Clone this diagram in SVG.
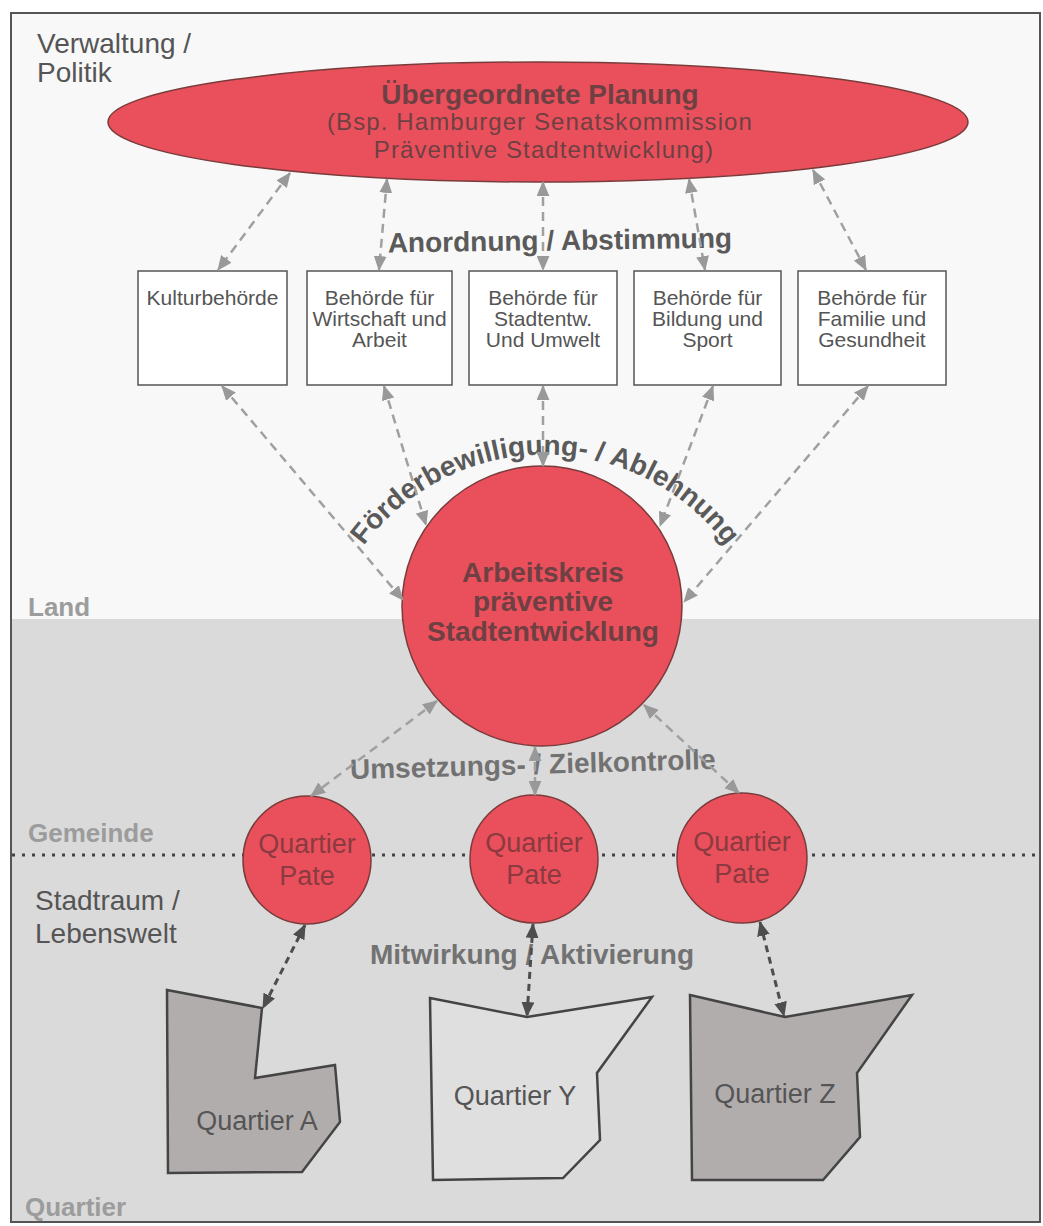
<svg xmlns="http://www.w3.org/2000/svg" width="1043" height="1226" viewBox="0 0 1043 1226">
  <style>
    .lbl { font-family: "Liberation Sans", Arial, sans-serif; }
    .side { font-size: 28px; fill: #555; }
    .lvl { font-size: 26px; font-weight: bold; fill: #9c9c9c; }
    .red { fill: #e9505b; stroke: #7a3b3b; stroke-width: 1.5; }
    .box { fill: #ffffff; stroke: #555; stroke-width: 1.5; }
    .boxt { font-size: 21px; fill: #555; text-anchor: middle; }
    .redt { fill: #6e4043; text-anchor: middle; }
    .patet { fill: #8a3a40; text-anchor: middle; font-size: 27px; }
    .flow { font-size: 28px; font-weight: bold; }
    .dash { fill: none; stroke: #a0a0a0; stroke-width: 2.5; stroke-dasharray: 9 6; marker-start: url(#ag); marker-end: url(#ag); }
    .dashd { fill: none; stroke: #4d4d4d; stroke-width: 3; stroke-dasharray: 7 5; marker-start: url(#ad); marker-end: url(#ad); }
    .quart { stroke: #444; stroke-width: 2.5; stroke-linejoin: miter; }
  </style>
  <defs>
    <marker id="ag" viewBox="0 0 14 12" refX="13" refY="6" markerWidth="15" markerHeight="13" markerUnits="userSpaceOnUse" orient="auto-start-reverse">
      <path d="M0,0 L14,6 L0,12 z" fill="#999"/>
    </marker>
    <marker id="ad" viewBox="0 0 14 12" refX="13" refY="6" markerWidth="15" markerHeight="13" markerUnits="userSpaceOnUse" orient="auto-start-reverse">
      <path d="M0,0 L14,6 L0,12 z" fill="#4d4d4d"/>
    </marker>
    <path id="arcF" d="M 362 548 A 226 226 0 0 1 728 548"/>
  </defs>

  <!-- background zones -->
  <rect x="0" y="0" width="1043" height="1226" fill="#ffffff"/>
  <rect x="11" y="13" width="1029" height="606" fill="#f8f8f8"/>
  <rect x="11" y="619" width="1029" height="603" fill="#dbdada"/>
  <rect x="11" y="13" width="1029" height="1209" fill="none" stroke="#555" stroke-width="2"/>
  <line x1="12" y1="855" x2="1040" y2="855" stroke="#444" stroke-width="3" stroke-dasharray="3 7"/>

  <!-- level labels -->
  <g class="lbl">
    <text class="side" x="37" y="53">Verwaltung /</text>
    <text class="side" x="37" y="82">Politik</text>
    <text class="lvl" x="28" y="616">Land</text>
    <text class="lvl" x="28" y="842">Gemeinde</text>
    <text class="side" x="35" y="910">Stadtraum /</text>
    <text class="side" x="35" y="943">Lebenswelt</text>
    <text class="lvl" x="25" y="1216">Quartier</text>
  </g>

  <!-- nodes -->
  <g id="planung" class="lbl">
    <ellipse class="red" cx="538" cy="122" rx="430" ry="60"/>
    <text class="redt" x="540" y="104" font-size="28" font-weight="bold">Übergeordnete Planung</text>
    <text class="redt" x="540" y="130" font-size="24" letter-spacing="1.1">(Bsp. Hamburger Senatskommission</text>
    <text class="redt" x="544" y="158" font-size="24" letter-spacing="1.1">Präventive Stadtentwicklung)</text>
  </g>

  <g id="kulturbehoerde" class="lbl">
    <rect class="box" x="138" y="271" width="149" height="114"/>
    <text class="boxt" x="212.5" y="305">Kulturbehörde</text>
  </g>
  <g id="wirtschaft" class="lbl">
    <rect class="box" x="307" y="271" width="145" height="114"/>
    <text class="boxt" x="379.5" y="305">Behörde für</text>
    <text class="boxt" x="379.5" y="326">Wirtschaft und</text>
    <text class="boxt" x="379.5" y="347">Arbeit</text>
  </g>
  <g id="stadtentw" class="lbl">
    <rect class="box" x="469" y="271" width="148" height="114"/>
    <text class="boxt" x="543" y="305">Behörde für</text>
    <text class="boxt" x="543" y="326">Stadtentw.</text>
    <text class="boxt" x="543" y="347">Und Umwelt</text>
  </g>
  <g id="bildung" class="lbl">
    <rect class="box" x="634" y="271" width="147" height="114"/>
    <text class="boxt" x="707.5" y="305">Behörde für</text>
    <text class="boxt" x="707.5" y="326">Bildung und</text>
    <text class="boxt" x="707.5" y="347">Sport</text>
  </g>
  <g id="familie" class="lbl">
    <rect class="box" x="798" y="271" width="148" height="114"/>
    <text class="boxt" x="872" y="305">Behörde für</text>
    <text class="boxt" x="872" y="326">Familie und</text>
    <text class="boxt" x="872" y="347">Gesundheit</text>
  </g>

  <g id="arbeitskreis" class="lbl">
    <circle class="red" cx="542" cy="606" r="140"/>
    <text class="redt" x="543" y="582" font-size="28" font-weight="bold">Arbeitskreis</text>
    <text class="redt" x="543" y="611" font-size="28" font-weight="bold">präventive</text>
    <text class="redt" x="543" y="641" font-size="28" font-weight="bold">Stadtentwicklung</text>
  </g>

  <g id="pate1" class="lbl">
    <circle class="red" cx="307" cy="860" r="64"/>
    <text class="patet" x="307" y="853">Quartier</text>
    <text class="patet" x="307" y="885">Pate</text>
  </g>
  <g id="pate2" class="lbl">
    <circle class="red" cx="534" cy="859" r="64"/>
    <text class="patet" x="534" y="852">Quartier</text>
    <text class="patet" x="534" y="884">Pate</text>
  </g>
  <g id="pate3" class="lbl">
    <circle class="red" cx="742" cy="858" r="65"/>
    <text class="patet" x="742" y="851">Quartier</text>
    <text class="patet" x="742" y="883">Pate</text>
  </g>

  <g id="quartierA" class="lbl">
    <polygon class="quart" fill="#b2adad" points="167,990 262,1008 255,1078 335,1065 340,1122 302,1172 168,1173"/>
    <text x="257" y="1130" font-size="27" fill="#555" text-anchor="middle">Quartier A</text>
  </g>
  <g id="quartierY" class="lbl">
    <polygon class="quart" fill="#e0dfdf" points="430,998 527,1017 652,997 597,1073 600,1140 563,1178 433,1180"/>
    <text x="515" y="1105" font-size="27" fill="#555" text-anchor="middle">Quartier Y</text>
  </g>
  <g id="quartierZ" class="lbl">
    <polygon class="quart" fill="#b2adad" points="690,995 785,1017 912,995 857,1073 860,1137 823,1180 692,1180"/>
    <text x="775" y="1103" font-size="27" fill="#555" text-anchor="middle">Quartier Z</text>
  </g>

  <!-- connector labels -->
  <g id="labels" class="lbl flow">
    <text x="560" y="250" fill="#5a5a5a" text-anchor="middle" transform="rotate(-0.8 560 250)">Anordnung / Abstimmung</text>
    <text fill="#5a5a5a"><textPath href="#arcF" startOffset="50%" text-anchor="middle">Förderbewilligung- / Ablehnung</textPath></text>
    <text x="533" y="774" fill="#727272" text-anchor="middle" transform="rotate(-1.6 533 774)">Umsetzungs- / Zielkontrolle</text>
    <text x="532" y="964" fill="#727272" text-anchor="middle">Mitwirkung / Aktivierung</text>
  </g>

  <!-- connectors -->
  <g id="connectors">
    <line class="dash" x1="290" y1="173" x2="218" y2="270"/>
    <line class="dash" x1="387" y1="179" x2="379" y2="270"/>
    <line class="dash" x1="543" y1="182" x2="543" y2="270"/>
    <line class="dash" x1="689" y1="179" x2="705" y2="270"/>
    <line class="dash" x1="813" y1="170" x2="866" y2="270"/>

    <line class="dash" x1="222" y1="386" x2="403" y2="600"/>
    <line class="dash" x1="384" y1="386" x2="426" y2="525"/>
    <line class="dash" x1="543" y1="386" x2="543" y2="466"/>
    <line class="dash" x1="713" y1="386" x2="660" y2="526"/>
    <line class="dash" x1="868" y1="386" x2="684" y2="602"/>

    <line class="dash" x1="437" y1="701" x2="311" y2="796"/>
    <line class="dash" x1="535" y1="747" x2="535" y2="795"/>
    <line class="dash" x1="644" y1="705" x2="739" y2="793"/>

    <line class="dashd" x1="305" y1="925" x2="263" y2="1008"/>
    <line class="dashd" x1="533" y1="924" x2="527" y2="1016"/>
    <line class="dashd" x1="760" y1="922" x2="784" y2="1016"/>
  </g>
</svg>
